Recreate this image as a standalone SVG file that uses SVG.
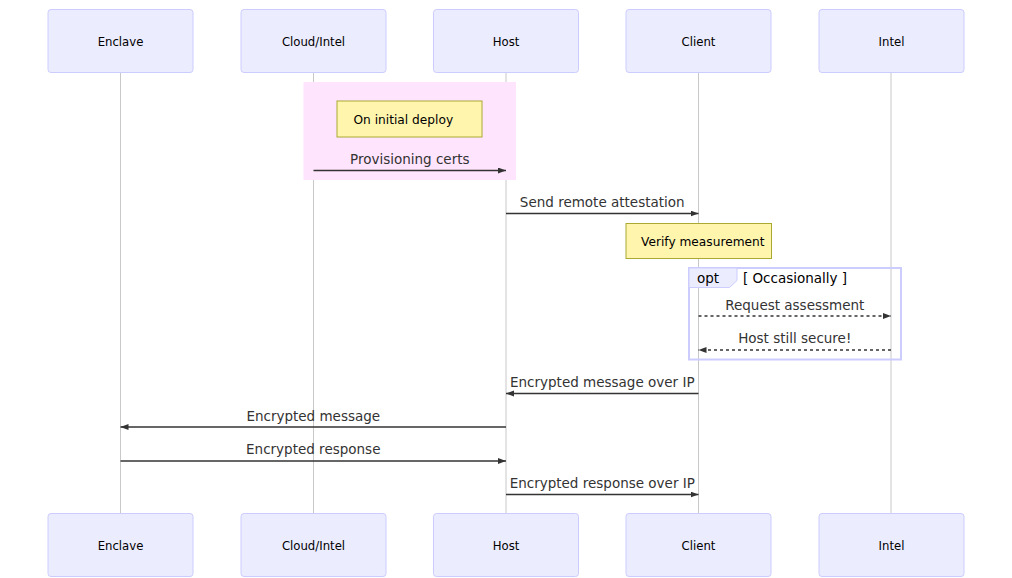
<svg xmlns="http://www.w3.org/2000/svg" width="1012" height="578" viewBox="0 0 1012 578">
<defs>
<style>
.actor{fill:#ECECFF;stroke:#CCCCFF;stroke-width:1}
.atext{font-family:"DejaVu Sans",Verdana,sans-serif;font-size:11.7px;fill:#000;text-anchor:middle;dominant-baseline:central}
.life{stroke:#c8c8c8;stroke-width:1}
.msg{stroke:#333;stroke-width:1.5;fill:none;marker-end:url(#arrow)}
.dash{stroke-dasharray:3,3}
.mtext{font-family:"DejaVu Sans",Verdana,sans-serif;font-size:13.5px;fill:#333;text-anchor:middle;dominant-baseline:central}
.note{fill:#fff5ad;stroke:#aaaa33;stroke-width:1}
.ntext{font-family:"DejaVu Sans",Verdana,sans-serif;font-size:12.2px;fill:#000;text-anchor:middle;dominant-baseline:central}
</style>
<marker id="arrow" markerUnits="userSpaceOnUse" markerWidth="10" markerHeight="8" refX="8" refY="3" orient="auto">
<path d="M0,0 L8,3 L0,6 z" fill="#333"/>
</marker>
</defs>
<rect width="1012" height="578" fill="#ffffff"/>
<g id="lifelines">
<line class="life" x1="120.5" y1="72" x2="120.5" y2="514"/>
<line class="life" x1="313.5" y1="72" x2="313.5" y2="514"/>
<line class="life" x1="506" y1="72" x2="506" y2="514"/>
<line class="life" x1="698.5" y1="72" x2="698.5" y2="514"/>
<line class="life" x1="891" y1="72" x2="891" y2="514"/>
</g>
<g id="rect-initial">
<rect x="303.5" y="82" width="212.5" height="98" fill="#ffe4fd"/>
</g>
<g id="actor-enclave-top"><rect class="actor" x="48" y="9.5" width="145" height="63" rx="3"/><text class="atext" x="120.5" y="41.5">Enclave</text></g>
<g id="actor-cloud-top"><rect class="actor" x="241" y="9.5" width="145" height="63" rx="3"/><text class="atext" x="313.5" y="41.5">Cloud/Intel</text></g>
<g id="actor-host-top"><rect class="actor" x="433.5" y="9.5" width="145" height="63" rx="3"/><text class="atext" x="506" y="41.5">Host</text></g>
<g id="actor-client-top"><rect class="actor" x="626" y="9.5" width="145" height="63" rx="3"/><text class="atext" x="698.5" y="41.5">Client</text></g>
<g id="actor-intel-top"><rect class="actor" x="819" y="9.5" width="145" height="63" rx="3"/><text class="atext" x="891.5" y="41.5">Intel</text></g>
<g id="actor-enclave-bottom"><rect class="actor" x="48" y="513.5" width="145" height="63" rx="3"/><text class="atext" x="120.5" y="545.5">Enclave</text></g>
<g id="actor-cloud-bottom"><rect class="actor" x="241" y="513.5" width="145" height="63" rx="3"/><text class="atext" x="313.5" y="545.5">Cloud/Intel</text></g>
<g id="actor-host-bottom"><rect class="actor" x="433.5" y="513.5" width="145" height="63" rx="3"/><text class="atext" x="506" y="545.5">Host</text></g>
<g id="actor-client-bottom"><rect class="actor" x="626" y="513.5" width="145" height="63" rx="3"/><text class="atext" x="698.5" y="545.5">Client</text></g>
<g id="actor-intel-bottom"><rect class="actor" x="819" y="513.5" width="145" height="63" rx="3"/><text class="atext" x="891.5" y="545.5">Intel</text></g>
<g id="note-initial"><rect class="note" x="337" y="101" width="145" height="36"/><text class="ntext" x="403.3" y="119.5">On initial deploy</text></g>
<g id="note-verify"><rect class="note" x="626" y="223.5" width="145.5" height="35"/><text class="ntext" x="702.8" y="241.5">Verify measurement</text></g>
<g id="opt-frame">
<rect x="689" y="268" width="212" height="91.5" fill="none" stroke="#ccccff" stroke-width="2"/>
<polygon points="689,268 737,268 737,280.5 729.5,287.5 689,287.5" fill="#ECECFF" stroke="#ccccff" stroke-width="1"/>
<text class="mtext" x="708" y="278" style="fill:#000">opt</text>
<text class="mtext" x="795" y="277.5" style="fill:#000">[ Occasionally ]</text>
</g>
<g id="connectors">
<line class="msg" x1="313.5" y1="170.5" x2="506" y2="170.5"/>
<text class="mtext" x="409.75" y="158.5">Provisioning certs</text>
<line class="msg" x1="506" y1="213.5" x2="698.5" y2="213.5"/>
<text class="mtext" x="602.25" y="201.5">Send remote attestation</text>
<line class="msg dash" x1="698.5" y1="316" x2="891" y2="316"/>
<text class="mtext" x="794.75" y="304.5">Request assessment</text>
<line class="msg dash" x1="891" y1="350" x2="698.5" y2="350"/>
<text class="mtext" x="794.75" y="337.5">Host still secure!</text>
<line class="msg" x1="698.5" y1="393.5" x2="506" y2="393.5"/>
<text class="mtext" x="602.25" y="381.5">Encrypted message over IP</text>
<line class="msg" x1="506" y1="427" x2="120.5" y2="427"/>
<text class="mtext" x="313.25" y="415.5">Encrypted message</text>
<line class="msg" x1="120.5" y1="461" x2="506" y2="461"/>
<text class="mtext" x="313.25" y="449">Encrypted response</text>
<line class="msg" x1="506" y1="494.5" x2="698.5" y2="494.5"/>
<text class="mtext" x="602.25" y="482.5">Encrypted response over IP</text>
</g>
</svg>
